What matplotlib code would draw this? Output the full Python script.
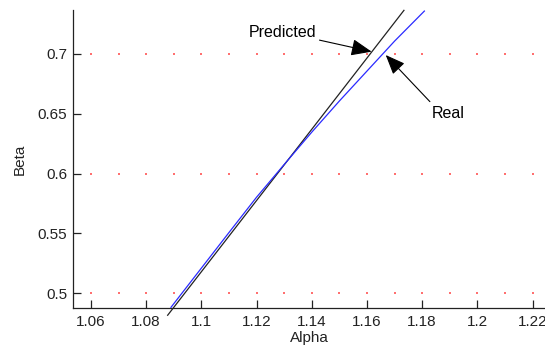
import matplotlib
matplotlib.use("Agg")
import matplotlib.pyplot as plt
import numpy as np

# Predicted relation (straight line)
pred_alpha = [1.0878, 1.1734]
pred_beta = [0.4817, 0.7362]

# Real relation
real_alpha = [1.0890, 1.1000, 1.1100, 1.1200, 1.1300, 1.1400, 1.1500, 1.1600, 1.1700, 1.1808]
real_beta = [0.4883, 0.5210, 0.5507, 0.5802, 0.6075, 0.6345, 0.6605, 0.6855, 0.7105, 0.7356]

xticks = [1.06, 1.08, 1.10, 1.12, 1.14, 1.16, 1.18, 1.20, 1.22]
xticklabels = ["1.06", "1.08", "1.1", "1.12", "1.14", "1.16", "1.18", "1.2", "1.22"]
yticks = [0.50, 0.55, 0.60, 0.65, 0.70]
yticklabels = ["0.5", "0.55", "0.6", "0.65", "0.7"]

# dotted grid points
grid_x = np.round(np.arange(1.06, 1.2201, 0.01), 2)
grid_y = [0.5, 0.6, 0.7]

plt.rcParams["font.family"] = ["Liberation Sans", "DejaVu Sans"]
plt.rcParams["font.size"] = 11

fig = plt.figure(figsize=(5.45, 3.54), dpi=100)
ax = fig.add_axes([0.1339, 0.1308, 0.8661, 0.841])

gx, gy = np.meshgrid(grid_x, grid_y)
ax.scatter(gx.ravel(), gy.ravel(), s=1.2, marker="s", color="#ff7070",
           linewidths=0, zorder=1)

ax.plot(pred_alpha, pred_beta, color="#222222", lw=0.9, clip_on=False, zorder=3)
ax.plot(real_alpha, real_beta, color="#2a2aff", lw=0.9, zorder=3)

ax.set_xlim(1.0535, 1.2245)
ax.set_ylim(0.488, 0.7365)
ax.set_xticks(xticks)
ax.set_xticklabels(xticklabels)
ax.set_yticks(yticks)
ax.set_yticklabels(yticklabels)
ax.tick_params(direction="in", length=6, width=0.9, colors="#222222",
               labelsize=11, labelcolor="#222222")
ax.tick_params(axis="x", pad=5)
ax.tick_params(axis="y", pad=4)
for side in ("top", "right"):
    ax.spines[side].set_visible(False)
for side in ("left", "bottom"):
    ax.spines[side].set_linewidth(0.9)
    ax.spines[side].set_color("#222222")

ax.set_xlabel("Alpha", fontsize=11, labelpad=2, color="#222222")
ax.set_ylabel("Beta", fontsize=11, labelpad=8, color="#222222")

arrow = dict(arrowstyle="-|>,head_length=1.1,head_width=0.45",
             color="black", lw=0.8, shrinkA=0, shrinkB=0)
ax.annotate("Predicted", xy=(1.1617, 0.7017), xytext=(1.1418, 0.7181),
            ha="right", va="center", fontsize=11.5, arrowprops=arrow,
            annotation_clip=False)
ax.annotate("", xy=(1.1668, 0.6989), xytext=(1.1828, 0.6600),
            arrowprops=arrow)
ax.text(1.1834, 0.6505, "Real", ha="left", va="center", fontsize=11.5)

fig.savefig("out.png", dpi=100)
